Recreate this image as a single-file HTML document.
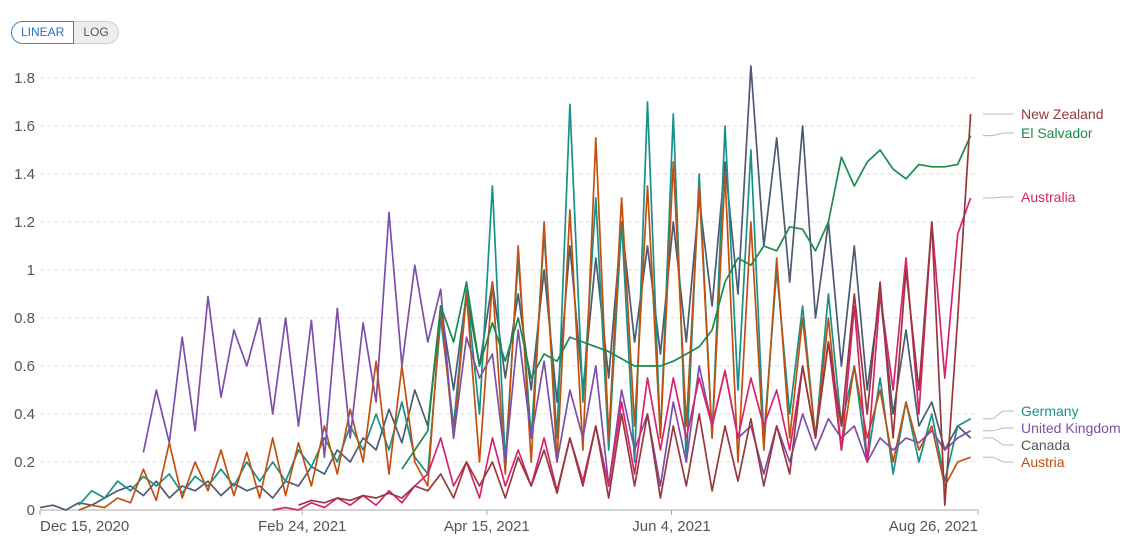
<!DOCTYPE html>
<html><head><meta charset="utf-8"><style>
body{margin:0;background:#fff;font-family:"Liberation Sans",sans-serif;}
#wrap{position:relative;width:1140px;height:540px;overflow:hidden;}
.btns{position:absolute;left:11px;top:21px;display:flex;font-size:12px;}
.btn{height:21px;line-height:21px;padding:0 9px;border:1px solid #ccc;color:#555;background:#eee;}
.btn.on{border:1px solid #3b82d6;color:#2a6fc4;background:#fff;border-radius:12px 0 0 12px;}
.btn.off{border-radius:0 12px 12px 0;border-left:none;}
</style></head><body>
<div id="wrap">
<div class="btns">
<div class="btn on">LINEAR</div>
<div class="btn off">LOG</div>
</div>
<svg id="chart" width="1140" height="540" style="position:absolute;left:0;top:0"></svg>
</div>
<script>
const yTicks=[0,0.2,0.4,0.6,0.8,1,1.2,1.4,1.6,1.8];
const yTickLabels=["0","0.2","0.4","0.6","0.8","1","1.2","1.4","1.6","1.8"];
const xTickDays=[0,71,121,171,254];
const xTickLabels=["Dec 15, 2020","Feb 24, 2021","Apr 15, 2021","Jun 4, 2021","Aug 26, 2021"];
const seriesNames=["Canada","Germany","Austria","United Kingdom","El Salvador","Australia","New Zealand"];
const seriesStart=[0,3,3,8,28,18,20];
const canada=[0.01,0.02,0.0,0.03,0.02,0.05,0.08,0.1,0.06,0.12,0.05,0.1,0.08,0.12,0.06,0.11,0.08,0.1,0.05,0.12,0.1,0.18,0.15,0.25,0.2,0.3,0.25,0.42,0.28,0.5,0.35,0.85,0.5,0.9,0.6,0.95,0.55,0.9,0.5,1.0,0.45,1.1,0.5,1.05,0.55,1.2,0.7,1.1,0.65,1.2,0.7,1.3,0.85,1.45,0.9,1.85,1.1,1.55,0.95,1.6,0.8,1.2,0.6,1.1,0.5,0.9,0.4,0.75,0.35,0.45,0.25,0.35,0.3];
const germany=[0.02,0.08,0.05,0.12,0.08,0.14,0.1,0.15,0.07,0.14,0.1,0.17,0.1,0.2,0.12,0.2,0.12,0.25,0.18,0.3,0.2,0.35,0.25,0.4,0.25,0.45,0.22,0.15,0.8,0.35,0.92,0.4,1.35,0.2,1.05,0.3,1.15,0.3,1.69,0.45,1.3,0.25,1.2,0.2,1.7,0.3,1.65,0.2,1.4,0.3,1.6,0.5,1.5,0.3,1.0,0.4,0.85,0.3,0.9,0.35,0.6,0.2,0.55,0.15,0.45,0.2,0.4,0.12,0.35,0.38];
const austria=[0.0,0.02,0.01,0.05,0.03,0.17,0.04,0.28,0.05,0.2,0.08,0.25,0.06,0.24,0.05,0.3,0.06,0.28,0.1,0.35,0.15,0.42,0.2,0.62,0.15,0.6,0.2,0.1,0.85,0.3,0.9,0.2,0.95,0.15,1.1,0.2,1.2,0.2,1.25,0.25,1.55,0.3,1.3,0.35,1.35,0.3,1.45,0.35,1.35,0.3,1.4,0.2,1.2,0.25,1.05,0.3,0.8,0.3,0.8,0.25,0.6,0.3,0.5,0.2,0.45,0.25,0.35,0.1,0.2,0.22];
const uk=[0.24,0.5,0.28,0.72,0.33,0.89,0.47,0.75,0.6,0.8,0.4,0.8,0.35,0.79,0.22,0.84,0.3,0.78,0.45,1.24,0.6,1.02,0.7,0.92,0.3,0.72,0.55,0.65,0.2,0.75,0.3,0.62,0.2,0.5,0.3,0.6,0.1,0.5,0.25,0.4,0.1,0.45,0.2,0.6,0.35,0.58,0.3,0.35,0.15,0.35,0.2,0.4,0.25,0.38,0.3,0.35,0.2,0.3,0.25,0.3,0.28,0.33,0.25,0.3,0.33];
const elSalvador=[0.17,0.25,0.33,0.85,0.7,0.95,0.6,0.78,0.62,0.8,0.55,0.65,0.62,0.72,0.7,0.68,0.66,0.63,0.6,0.6,0.6,0.62,0.65,0.68,0.75,0.95,1.05,1.02,1.1,1.08,1.18,1.17,1.08,1.2,1.47,1.35,1.45,1.5,1.42,1.38,1.44,1.43,1.43,1.44,1.56];
const australia=[0.0,0.01,0.0,0.03,0.01,0.05,0.02,0.06,0.02,0.08,0.03,0.1,0.15,0.3,0.1,0.2,0.05,0.3,0.1,0.25,0.1,0.3,0.08,0.3,0.12,0.35,0.1,0.45,0.15,0.55,0.25,0.55,0.3,0.55,0.35,0.58,0.3,0.55,0.35,0.5,0.25,0.6,0.3,0.7,0.25,0.85,0.2,0.9,0.5,1.05,0.4,1.2,0.55,1.15,1.3];
const newZealand=[0.02,0.04,0.03,0.05,0.04,0.06,0.05,0.07,0.05,0.1,0.08,0.15,0.05,0.2,0.1,0.2,0.05,0.22,0.1,0.25,0.07,0.3,0.1,0.35,0.05,0.4,0.1,0.4,0.05,0.35,0.1,0.4,0.08,0.35,0.12,0.38,0.1,0.35,0.15,0.6,0.3,0.7,0.35,0.9,0.4,0.95,0.3,1.0,0.5,1.2,0.02,0.8,1.65];
const seriesData=[canada,germany,austria,uk,elSalvador,australia,newZealand];
const colors=["#4d5a73","#17928a","#c2500f","#7d4fa8","#1b8a4c","#d8236d","#97393c"];
const labelY=[450,416,467,433,138,202,119];
const labelColors=["#555","#17928a","#c2500f","#7d4fa8","#1b8a4c","#d8236d","#97393c"];
const X0=40,X1=978,Y0=510,Y1=78,DAYS=254,YMAX=1.8;
const xs=d=>X0+d/DAYS*(X1-X0);
const ys=v=>Y0-v/YMAX*(Y0-Y1);
const NS="http://www.w3.org/2000/svg";
const svg=document.getElementById('chart');
function mk(t,a){const e=document.createElementNS(NS,t);for(const k in a)e.setAttribute(k,a[k]);svg.appendChild(e);return e;}
yTicks.forEach((v,i)=>{
 if(v>0){const g=mk('line',{x1:X0,x2:X1,y1:ys(v),y2:ys(v),stroke:'#ddd','stroke-dasharray':'4,3'});
 
 }
 const t=mk('text',{x:35,y:ys(v)+5,'text-anchor':'end','font-size':15,fill:'#555','font-family':'Liberation Sans,sans-serif'});
 t.textContent=yTickLabels[i];
 
 
});
const base=mk('line',{x1:X0,x2:X1,y1:Y0,y2:Y0,stroke:'#aaa'});


xTickDays.forEach((d,i)=>{
 const tk=mk('line',{x1:xs(d),x2:xs(d),y1:Y0,y2:Y0+5,stroke:'#aaa'});
 
 
 const anchor=i==0?'start':(i==xTickDays.length-1?'end':'middle');
 const t=mk('text',{x:xs(d),y:531,'text-anchor':anchor,'font-size':15,fill:'#555','font-family':'Liberation Sans,sans-serif'});
 t.textContent=xTickLabels[i];
 
 
});
seriesData.forEach((arr,s)=>{
 const pts=arr.map((v,i)=>xs((seriesStart[s]+i)*3.5).toFixed(1)+','+ys(v).toFixed(1)).join(' ');
 const p=mk('polyline',{points:pts,fill:'none',stroke:colors[s],'stroke-width':1.7,'stroke-linejoin':'round'});
 
 
 const last=arr[arr.length-1];
 const c=mk('polyline',{points:`${X1+5},${ys(last)} ${X1+15},${ys(last)} ${X1+25},${labelY[s]-5} ${1014},${labelY[s]-5}`,fill:'none',stroke:'#bbb','stroke-width':1});
 
 
 const t=mk('text',{x:1021,y:labelY[s],'font-size':14,fill:labelColors[s],'font-family':'Liberation Sans,sans-serif'});
 t.textContent=seriesNames[s];
 
 
});
</script>
</body></html>
